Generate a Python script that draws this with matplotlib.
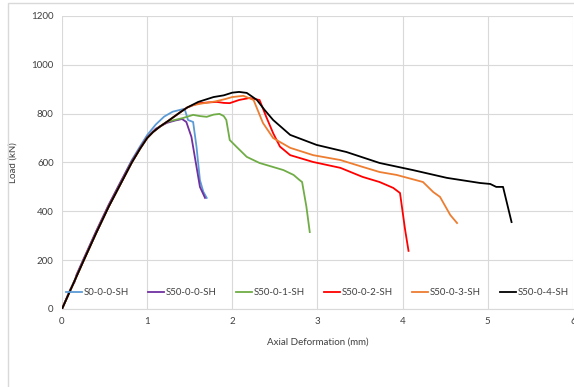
import matplotlib
matplotlib.use('Agg')
import matplotlib.pyplot as plt
from matplotlib.patches import Rectangle

plt.rcParams['font.family'] = ['Lato', 'DejaVu Sans']

# shared ascending branch (mm, kN)
rise_x = [0.0, 0.1, 0.25, 0.4, 0.55, 0.7, 0.82, 0.92, 1.0, 1.07, 1.15, 1.23, 1.31, 1.39, 1.47]
rise_y = [0, 78, 195, 310, 420, 520, 600, 658, 700, 725, 747, 766, 786, 806, 825]

s0_x = [0.0, 0.1, 0.25, 0.4, 0.55, 0.7, 0.82, 0.92, 1.0, 1.1, 1.2, 1.3, 1.44,
        1.48, 1.54, 1.58, 1.62, 1.66, 1.70]
s0_y = [0, 80, 200, 315, 425, 528, 610, 668, 712, 755, 788, 808, 820,
        774, 766, 664, 528, 480, 455]

s500_x = [0.0, 0.1, 0.15, 0.17, 0.25, 0.4, 0.55, 0.7, 0.82, 0.92, 1.0, 1.1, 1.23,
          1.33, 1.41, 1.46, 1.52, 1.56, 1.62, 1.68]
s500_y = [0, 82, 112, 140, 202, 318, 428, 528, 606, 662, 703, 738, 762,
          772, 778, 766, 705, 623, 500, 455]

s501_x = rise_x[:12] + [1.3, 1.42, 1.54, 1.62, 1.70, 1.78, 1.85, 1.9, 1.93, 1.97,
                        2.05, 2.17, 2.32, 2.6, 2.72, 2.79, 2.82, 2.87, 2.91]
s501_y = rise_y[:12] + [772, 782, 795, 790, 787, 796, 799, 790, 774, 692,
                        664, 623, 598, 569, 549, 528, 520, 420, 315]

s502_x = rise_x + [1.55, 1.62, 1.72, 1.82, 1.9, 1.97, 2.08, 2.2, 2.32, 2.4, 2.48,
                   2.56, 2.68, 2.95, 3.27, 3.53, 3.73, 3.89, 3.97, 4.03, 4.07]
s502_y = rise_y + [836, 843, 846, 848, 844, 843, 856, 864, 856, 786, 720,
                   665, 630, 602, 578, 541, 520, 496, 475, 324, 238]

s503_x = rise_x + [1.54, 1.65, 1.8, 1.92, 2.0, 2.13, 2.25, 2.36, 2.48, 2.68, 2.95,
                   3.27, 3.53, 3.73, 3.93, 4.24, 4.36, 4.44, 4.56, 4.64]
s503_y = rise_y + [835, 842, 850, 860, 868, 873, 856, 762, 700, 660, 630,
                   610, 582, 561, 549, 520, 479, 459, 385, 352]

s504_x = rise_x + [1.6, 1.78, 1.9, 2.0, 2.08, 2.17, 2.29, 2.38, 2.48, 2.68, 2.99, 3.34,
                   3.73, 4.12, 4.52, 4.91, 5.03, 5.1, 5.18, 5.28]
s504_y = rise_y + [848, 868, 875, 886, 889, 885, 856, 815, 774, 713, 672, 643,
                   598, 569, 537, 516, 512, 500, 500, 356]

names = ['S0-0-0-SH', 'S50-0-0-SH', 'S50-0-1-SH', 'S50-0-2-SH', 'S50-0-3-SH', 'S50-0-4-SH']
colors = ['#5b9bd5', '#7030a0', '#70ad47', '#ff0000', '#ed7d31', '#000000']
xs = [s0_x, s500_x, s501_x, s502_x, s503_x, s504_x]
ys = [s0_y, s500_y, s501_y, s502_y, s503_y, s504_y]

fig = plt.figure(figsize=(5.74, 3.87), dpi=100)
ax = fig.add_axes([0.108, 0.2016, 0.890, 0.7571])

for x, y, c, n in zip(xs, ys, colors, names):
    ax.plot(x, y, color=c, lw=1.3, label=n, solid_joinstyle='round')

ax.set_xlim(0, 6)
ax.set_ylim(0, 1200)
ax.set_xticks(range(0, 7))
ax.set_yticks(range(0, 1201, 200))
ax.grid(True, color='#d9d9d9', lw=0.8)
ax.set_axisbelow(True)
for s in ['top', 'right', 'left']:
    ax.spines[s].set_visible(False)
ax.spines['bottom'].set_color('#d9d9d9')
ax.tick_params(length=0, labelsize=7, colors='#404040', pad=6)

ax.set_xlabel('Axial Deformation (mm)', fontsize=7, color='#404040', labelpad=8)
ax.set_ylabel('Load (kN)', fontsize=7, color='#404040', labelpad=10)

ax.legend(loc='center', bbox_to_anchor=(0.5, 0.055), ncol=6, frameon=False,
          fontsize=7, handlelength=1.6, handletextpad=0.2, columnspacing=2.0,
          labelcolor='#404040')

# outer chart border (cropped)
fig.add_artist(Rectangle((8 / 574, -0.1), 1.2, 1.1 - 3 / 387, transform=fig.transFigure,
                         fill=False, edgecolor='#d9d9d9', lw=1.0))

fig.savefig('out.png', dpi=100)
